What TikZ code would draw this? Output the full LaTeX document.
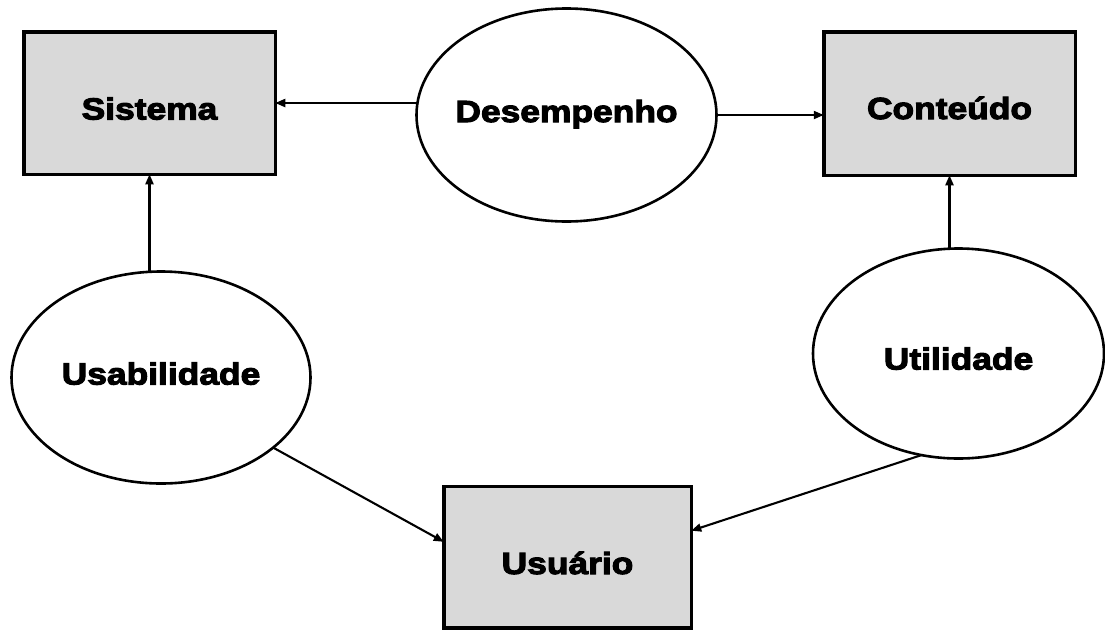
\documentclass[tikz,border=0pt]{standalone}
\usepackage{fontspec}
\usetikzlibrary{arrows.meta,shapes.geometric}
\newfontfamily\lblfont{Liberation Sans}[BoldFeatures={FakeStretch=1.16,FakeBold=3.5}]
\definecolor{boxgray}{HTML}{D9D9D9}
% zero-width label so that an ellipse keeps its given size
\newcommand\ovaltext[1]{\makebox[0pt]{#1}}
\tikzset{
  lbl/.style={font=\lblfont\bfseries\fontsize{30.5}{36}\selectfont, text depth=0pt, text height=22pt},
  % raise (small value) or lower (large value) the label inside its shape
  txth/.style={text height=#1},
  graybox/.style={lbl, rectangle, draw=black, fill=boxgray, line width=3.5pt,
    inner sep=0pt, outer sep=0pt},
  oval/.style={lbl, ellipse, draw=black, fill=white, line width=2.6pt,
    inner sep=0pt, outer sep=0pt},
  link/.style={line width=2.1pt, -{Triangle[length=10pt,width=8pt]}},
}
\begin{document}
\begin{tikzpicture}[x=1pt,y=-1pt]
  \useasboundingbox (0,0) rectangle (1105,630);
  % the three system components
  \node[graybox, txth=33pt, minimum width=251.5pt, minimum height=142.5pt] (sis) at (149.5,103) {Sistema};
  \node[graybox, txth=31pt, minimum width=251.5pt, minimum height=143.5pt] (con) at (949.5,103.5) {Conteúdo};
  \node[graybox, txth=34pt, minimum width=247.5pt, minimum height=141.5pt] (usu) at (567.5,557) {Usuário};
  % the three quality dimensions
  \node[oval, txth=14pt, minimum width=300pt, minimum height=213pt] (des) at (566.5,115) {\ovaltext{Desempenho}};
  \node[oval, txth=14pt, minimum width=299pt, minimum height=212pt] (usa) at (161,377.5) {\ovaltext{Usabilidade}};
  \node[oval, txth=32pt, minimum width=291pt, minimum height=210pt] (uti) at (958.5,353.5) {\ovaltext{Utilidade}};
  % relations
  \draw[link] (des.west |- sis.east) -- (sis.east);
  \draw[link] (des.east) -- (des.east -| con.west);
  \draw[link] (usa.north -| sis.south) -- (sis.south);
  \draw[link] (uti.north -| con.south) -- (con.south);
  \draw[link] (usa.-32.6) -- (usu.173);
  \draw[link] (uti.250) -- (usu.12);
\end{tikzpicture}
\end{document}
